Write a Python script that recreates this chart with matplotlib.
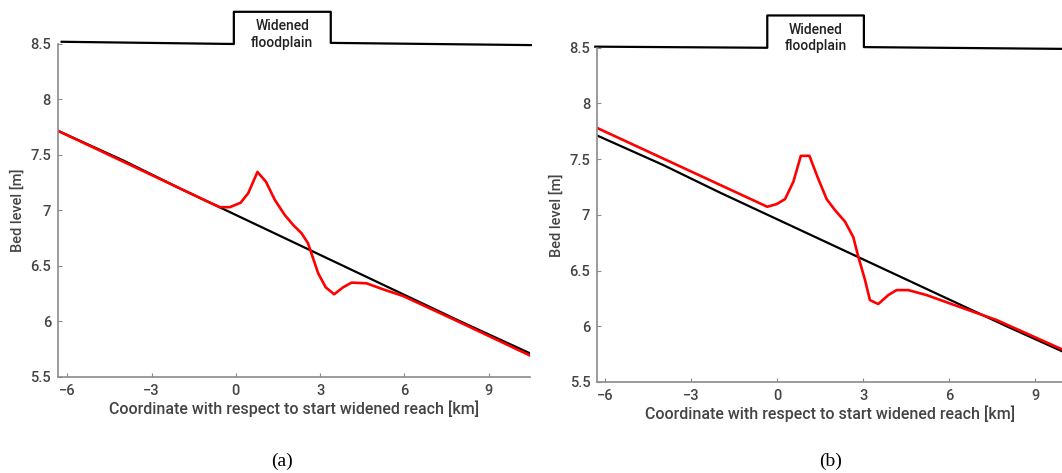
#!/usr/bin/env python3
"""
Bed level along the reach, before and after widening the floodplain
"""

import matplotlib

matplotlib.use("Agg")
import matplotlib.pyplot as plt

# initial bed (black), same in both panels
bed_x = [-6.35, -4.0, -2.0, 0.0, 2.0, 4.0, 6.0, 8.0, 10.5]
bed_y = [7.72, 7.45, 7.20, 6.96, 6.72, 6.48, 6.24, 6.00, 5.71]

# panel (a): final bed (red)
a_x = [-6.35, -3.0, -1.0, -0.57, -0.21, 0.17, 0.44, 0.77, 1.07, 1.39, 1.74,
       2.04, 2.34, 2.57, 2.69, 2.93, 3.20, 3.50, 3.82, 4.12, 4.65, 5.24,
       5.95, 8.0, 10.5]
a_y = [7.72, 7.32, 7.08, 7.03, 7.03, 7.07, 7.155, 7.347, 7.26, 7.095, 6.96,
       6.87, 6.795, 6.705, 6.615, 6.435, 6.308, 6.245, 6.308, 6.35, 6.344,
       6.29, 6.23, 5.99, 5.69]

# panel (b): final bed (red)
b_x = [-6.3, -0.35, -0.02, 0.27, 0.56, 0.82, 1.12, 1.40, 1.72, 2.01, 2.36,
       2.65, 2.83, 3.06, 3.23, 3.52, 3.87, 4.16, 4.57, 5.21, 6.02, 7.65, 10.0]
b_y = [7.782, 7.073, 7.097, 7.142, 7.297, 7.53, 7.53, 7.342, 7.142, 7.043,
       6.94, 6.80, 6.62, 6.415, 6.235, 6.20, 6.28, 6.325, 6.325, 6.28, 6.205,
       6.056, 5.785]

# floodplain outline drawn above the axes: (x, y) per panel
fp_a_x = [-6.2, -0.07, -0.07, 3.38, 3.38, 10.5]
fp_a_y = [8.52, 8.50, 8.79, 8.79, 8.51, 8.49]
fp_b_x = [-6.35, -0.35, -0.35, 3.02, 3.02, 10.0]
fp_b_y = [8.51, 8.50, 8.79, 8.79, 8.506, 8.49]

xticks = [-6, -3, 0, 3, 6, 9]
yticks = [5.5, 6, 6.5, 7, 7.5, 8, 8.5]
ytick_labels = ["5.5", "6", "6.5", "7", "7.5", "8", "8.5"]

FONT = ["Roboto", "DejaVu Sans"]
TXT = "#444444"


def draw_panel(ax, red_x, red_y, fp_x, fp_y, xlim):
    ax.plot(bed_x, bed_y, color="black", lw=1.6)
    ax.plot(red_x, red_y, color="#ff0000", lw=1.9)
    ax.plot(fp_x, fp_y, color="black", lw=1.6, clip_on=False)
    ax.text((fp_x[1] + fp_x[3]) / 2, 8.585, "Widened\nfloodplain", ha="center",
            va="center", fontsize=10, color="#222222", family=FONT,
            fontweight="medium", linespacing=1.2)

    ax.set_xlim(*xlim)
    ax.set_ylim(5.5, 8.5)
    ax.set_xticks(xticks)
    ax.set_xticklabels([str(t) if t >= 0 else "\u2212" + str(-t) for t in xticks])
    ax.set_yticks(yticks)
    ax.set_yticklabels(ytick_labels)
    for s in ["top", "right"]:
        ax.spines[s].set_visible(False)
    for s in ["left", "bottom"]:
        ax.spines[s].set_color("#8a8a8a")
        ax.spines[s].set_linewidth(1.2)
    ax.tick_params(direction="in", length=3, color="#8a8a8a", labelsize=10.5,
                   labelcolor=TXT, pad=5)
    for lab in ax.get_xticklabels() + ax.get_yticklabels():
        lab.set_family(FONT)
        lab.set_fontweight("medium")
    ax.set_xlabel("Coordinate with respect to start widened reach [km]",
                  fontsize=11.5, color=TXT, family=FONT, fontweight="medium",
                  labelpad=2)
    ax.set_ylabel("Bed level [m]", fontsize=10.5, color=TXT, family=FONT,
                  fontweight="medium", labelpad=4)


def main():
    fig = plt.figure(figsize=(10.62, 4.73), dpi=100)
    ax_a = fig.add_axes([0.0546, 0.203, 0.4444, 0.704])
    ax_b = fig.add_axes([0.5624, 0.1924, 0.4376, 0.7066])
    draw_panel(ax_a, a_x, a_y, fp_a_x, fp_a_y, (-6.33, 10.47))
    draw_panel(ax_b, b_x, b_y, fp_b_x, fp_b_y, (-6.28, 9.93))
    fig.text(0.266, 0.025, "(a)", ha="center", va="center", fontsize=14,
             family="Liberation Serif")
    fig.text(0.782, 0.025, "(b)", ha="center", va="center", fontsize=14,
             family="Liberation Serif")
    fig.savefig("out.png", dpi=100)


if __name__ == "__main__":
    main()
